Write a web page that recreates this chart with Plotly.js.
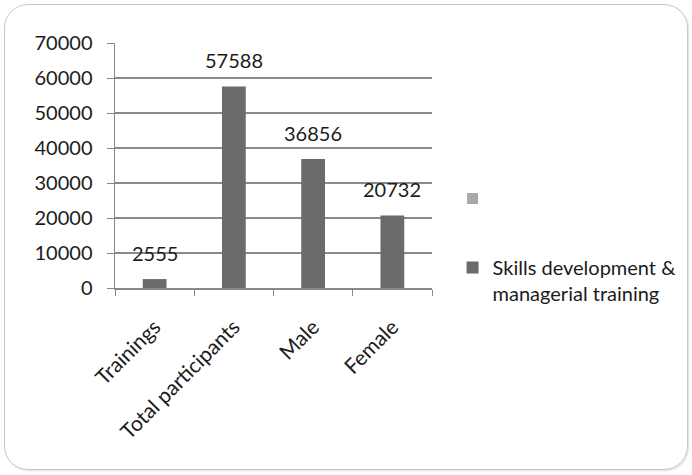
<!DOCTYPE html>
<html><head><meta charset="utf-8">
<script src="https://cdn.plot.ly/plotly-3.0.1.min.js"></script>
<style>
html,body{margin:0;padding:0;background:#fff;}
#frame{position:absolute;left:4px;top:4px;width:682px;height:464px;border:1.5px solid #c8c8c8;border-radius:24px;box-shadow:1px 1px 2px #ddd;}
#chart{position:absolute;left:0;top:0;width:692px;height:475px;}
</style></head>
<body>
<div id="frame"></div>
<div id="chart"></div>
<script>
const categories = ["Trainings", "Total participants", "Male", "Female"];
const values = [2555, 57588, 36856, 20732];
const seriesName = "Skills development &<br>managerial training";
const emptySeriesName = " ";
const emptySeriesValues = [null];
const yTicks = [0, 10000, 20000, 30000, 40000, 50000, 60000, 70000];

const font = "Lato, 'Open Sans', sans-serif";
const traces = [
  {type: "scatter", mode: "markers", x: [categories[0]], y: emptySeriesValues, name: emptySeriesName,
   legendgroup: "a", marker: {color: "#a8a8a8", symbol: "square", size: 11},
   showlegend: true, hoverinfo: "skip"},
  {type: "bar", x: categories, y: values, name: seriesName, legendgroup: "b",
   marker: {color: "#6b6b6b"}, hoverinfo: "skip"}
];
const annotations = categories.map((c, i) => ({
  x: c, y: values[i], xref: "x", yref: "y", text: String(values[i]),
  showarrow: false, yanchor: "bottom", yshift: 12,
  font: {family: font, size: 20, color: "#1c1c1c"}
}));
const layout = {
  width: 692, height: 475,
  margin: {l: 115, r: 260, t: 43, b: 187},
  paper_bgcolor: "rgba(0,0,0,0)", plot_bgcolor: "rgba(0,0,0,0)",
  font: {family: font, size: 20, color: "#1c1c1c"},
  bargap: 0.7,
  annotations: annotations,
  xaxis: {type: "category", tickangle: -45, ticks: "outside", ticklen: 6, tickcolor: "#888",
          tickson: "boundaries", showline: true, linecolor: "#888", linewidth: 1.5,
          showgrid: false, tickfont: {size: 21}, ticklabelstandoff: 17, automargin: false},
  yaxis: {range: [0, 70000], tickvals: yTicks, ticktext: yTicks.map(String),
          showgrid: true, gridcolor: "#8a8a8a", gridwidth: 1.5, showline: true, linecolor: "#888",
          linewidth: 1.5, ticks: "outside", ticklen: 7, tickcolor: "#888", zeroline: false,
          tickfont: {size: 20}, ticklabelstandoff: 10, automargin: false},
  showlegend: true,
  legend: {xref: "container", yref: "container", x: 0.654, xanchor: "left", y: 0.623, yanchor: "top",
           traceorder: "grouped", valign: "top",
           tracegroupgap: 40, font: {size: 20}},
};
Plotly.newPlot("chart", traces, layout, {displayModeBar: false, staticPlot: true});
</script>
</body></html>
